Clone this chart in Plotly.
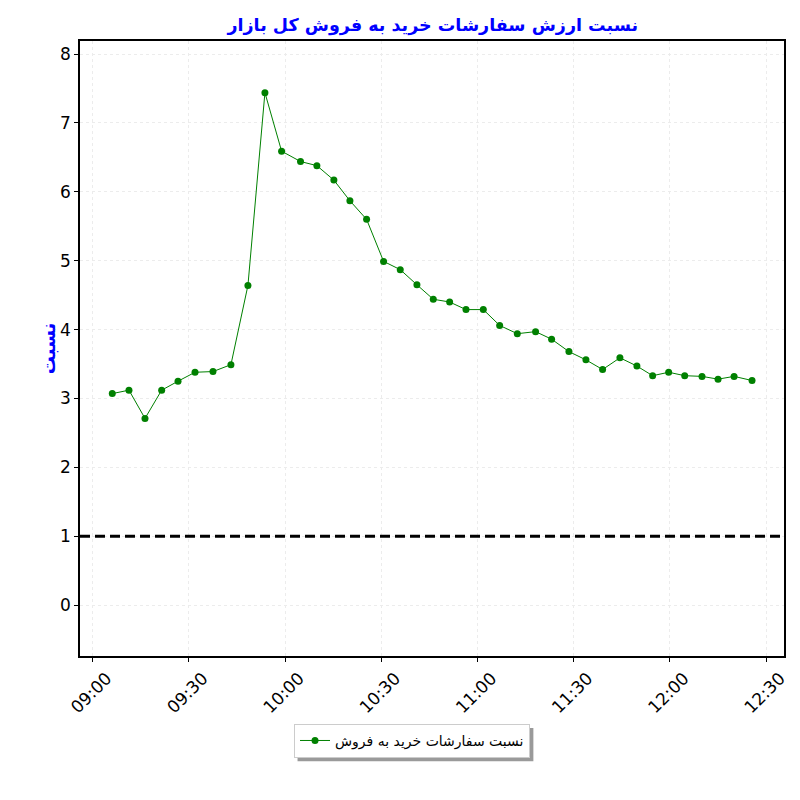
import plotly.graph_objects as go

times = ["09:06:06", "09:11:18", "09:16:18", "09:21:30", "09:26:36", "09:31:54", "09:37:30",
         "09:43:06", "09:48:24", "09:53:42", "09:58:54", "10:04:48", "10:09:54", "10:15:12",
         "10:20:12", "10:25:24", "10:30:42", "10:35:54", "10:41:06", "10:46:12", "10:51:18",
         "10:56:24", "11:01:48", "11:06:54", "11:12:24", "11:18:06", "11:23:06", "11:28:30",
         "11:33:48", "11:39:00", "11:44:24", "11:49:42", "11:54:36", "11:59:36", "12:04:36",
         "12:10:00", "12:15:00", "12:20:00", "12:25:36"]
ratio = [3.07, 3.12, 2.71, 3.12, 3.25, 3.38, 3.39, 3.49, 4.64, 7.44, 6.59, 6.44, 6.38, 6.17,
         5.87, 5.60, 4.99, 4.87, 4.65, 4.44, 4.40, 4.29, 4.29, 4.06, 3.94, 3.97, 3.86, 3.68,
         3.56, 3.42, 3.59, 3.47, 3.33, 3.38, 3.33, 3.32, 3.28, 3.32, 3.26]
threshold = 1
day = "2024-01-01 "
x_vals = [day + t for t in times]
x_ticks = ["09:00", "09:30", "10:00", "10:30", "11:00", "11:30", "12:00", "12:30"]
y_ticks = [0, 1, 2, 3, 4, 5, 6, 7, 8]
title_text = "نسبت ارزش سفارشات خرید به فروش کل بازار"
series_name = "نسبت سفارشات خرید به فروش"
y_title = "نسبت"

fig = go.Figure()
fig.add_trace(go.Scatter(
    x=x_vals, y=ratio, mode="lines+markers", name=series_name,
    line=dict(color="green", width=1),
    marker=dict(color="green", size=7),
))
fig.add_hline(y=threshold, line=dict(color="black", width=3, dash="10px,5px"))

# legend drop shadow
fig.add_shape(type="rect", xref="paper", yref="paper",
              x0=0.309, x1=0.644, y0=-0.171, y1=-0.117,
              fillcolor="#9a9a9a", line=dict(width=0), layer="below")

fig.update_layout(
    width=800, height=800,
    margin=dict(l=72, r=24, t=33, b=152),
    paper_bgcolor="white", plot_bgcolor="white",
    font=dict(family="DejaVu Sans", size=17, color="black"),
    title=dict(text="<b>" + title_text + "</b>", x=0.531, xanchor="center", y=0.979, yanchor="middle",
               font=dict(family="DejaVu Sans", size=17.5, color="blue")),
    showlegend=True,
    legend=dict(x=0.4716, y=-0.138, xanchor="center", yanchor="middle",
                bordercolor="#cccccc", borderwidth=1, bgcolor="white",
                font=dict(family="DejaVu Sans", size=14, color="black")),
)
fig.update_xaxes(
    type="date", automargin=False,
    range=[day + "08:56:02", day + "12:35:34"],
    tickvals=[day + t for t in x_ticks], ticktext=x_ticks,
    tickangle=-45, ticks="outside", ticklen=4, tickcolor="black",
    ticklabelshift=14,
    showline=True, linecolor="black", linewidth=1.5, mirror=True,
    showgrid=True, gridcolor="#ececec", griddash="dot", gridwidth=1,
    zeroline=False,
)
fig.update_yaxes(
    automargin=False,
    range=[-0.74, 8.19], tickvals=y_ticks,
    ticks="outside", ticklen=4, tickcolor="black",
    showline=True, linecolor="black", linewidth=1.5, mirror=True,
    showgrid=True, gridcolor="#ececec", griddash="dot", gridwidth=1,
    zeroline=False,
    title=dict(text="<b>" + y_title + "</b>", font=dict(family="DejaVu Sans", size=18, color="blue"), standoff=0),
)
fig.write_html("out.html")
